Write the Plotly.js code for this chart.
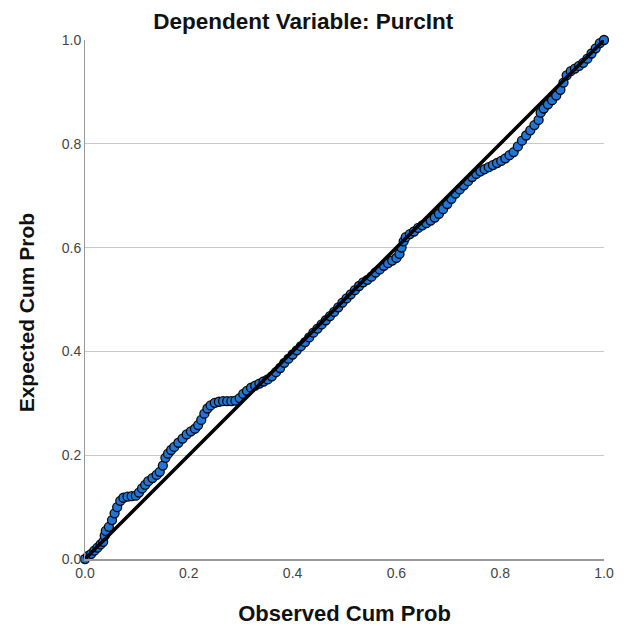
<!DOCTYPE html>
<html>
<head>
<meta charset="utf-8">
<script src="https://cdn.plot.ly/plotly-3.0.1.min.js"></script>
<style>html,body{margin:0;padding:0;background:#fff;}#chart{width:624px;height:628px;}</style>
</head>
<body>
<div id="chart"></div>
<script>
var observedCumProb = [0.000,0.006,0.012,0.018,0.024,0.030,0.035,0.038,0.040,0.046,0.052,0.057,0.062,0.068,0.074,0.082,0.090,0.098,0.104,0.110,0.116,0.122,0.130,0.138,0.144,0.150,0.155,0.160,0.166,0.172,0.180,0.188,0.196,0.204,0.212,0.218,0.224,0.230,0.236,0.242,0.250,0.258,0.266,0.274,0.282,0.290,0.298,0.305,0.312,0.320,0.328,0.336,0.344,0.352,0.360,0.368,0.376,0.384,0.392,0.400,0.408,0.416,0.424,0.432,0.440,0.448,0.456,0.464,0.472,0.480,0.488,0.496,0.504,0.512,0.520,0.528,0.536,0.544,0.552,0.560,0.568,0.576,0.584,0.592,0.600,0.606,0.610,0.614,0.618,0.626,0.634,0.642,0.650,0.658,0.666,0.674,0.682,0.690,0.698,0.706,0.714,0.722,0.730,0.738,0.746,0.754,0.762,0.770,0.778,0.786,0.794,0.802,0.810,0.818,0.826,0.834,0.842,0.850,0.858,0.866,0.874,0.878,0.884,0.892,0.900,0.908,0.916,0.922,0.928,0.936,0.944,0.952,0.960,0.968,0.976,0.984,0.992,1.000];
var expectedCumProb = [0.000,0.006,0.010,0.016,0.022,0.028,0.033,0.045,0.054,0.062,0.075,0.088,0.100,0.112,0.118,0.120,0.121,0.122,0.128,0.136,0.143,0.150,0.156,0.162,0.168,0.180,0.195,0.203,0.210,0.216,0.224,0.232,0.240,0.246,0.251,0.258,0.268,0.280,0.290,0.296,0.301,0.303,0.304,0.304,0.304,0.305,0.310,0.318,0.324,0.330,0.334,0.338,0.342,0.346,0.352,0.360,0.368,0.378,0.386,0.394,0.402,0.410,0.418,0.427,0.436,0.444,0.452,0.460,0.468,0.476,0.485,0.494,0.502,0.510,0.518,0.526,0.533,0.538,0.544,0.552,0.558,0.565,0.570,0.575,0.580,0.588,0.600,0.612,0.620,0.626,0.631,0.638,0.643,0.647,0.652,0.658,0.665,0.674,0.684,0.694,0.704,0.712,0.720,0.728,0.736,0.742,0.747,0.751,0.755,0.759,0.763,0.767,0.772,0.778,0.784,0.795,0.806,0.816,0.826,0.836,0.846,0.860,0.868,0.876,0.884,0.893,0.904,0.918,0.932,0.940,0.945,0.950,0.956,0.964,0.974,0.984,0.994,1.000];
var refLine = [0, 1];
var tickVals = [0, 0.2, 0.4, 0.6, 0.8, 1.0];
var tickText = ["0.0", "0.2", "0.4", "0.6", "0.8", "1.0"];

var traces = [
  {
    x: observedCumProb, y: expectedCumProb, type: 'scatter', mode: 'markers',
    marker: {size: 9, color: '#1f76d8', line: {color: '#0a0a0a', width: 1.3}},
    cliponaxis: false, hoverinfo: 'x+y'
  },
  {
    x: refLine, y: refLine, type: 'scatter', mode: 'lines',
    line: {color: '#000000', width: 3.5}, cliponaxis: false, hoverinfo: 'skip'
  }
];

var layout = {
  width: 624, height: 628,
  paper_bgcolor: '#ffffff', plot_bgcolor: '#ffffff',
  showlegend: false,
  margin: {l: 85, r: 20, t: 40, b: 69},
  font: {family: 'Liberation Sans, Arial, sans-serif', color: '#333333'},
  title: {
    text: 'Dependent Variable: PurcInt',
    font: {size: 22.5, color: '#111111', family: 'Liberation Sans, Arial, sans-serif', weight: 'bold'},
    x: 0.486, xref: 'container', xanchor: 'center',
    y: 0.966, yref: 'container', yanchor: 'middle'
  },
  xaxis: {
    range: [0, 1], tickvals: tickVals, ticktext: tickText,
    showgrid: false, zeroline: false,
    showline: true, linecolor: '#999999', linewidth: 2,
    ticks: '', tickfont: {size: 14, color: '#444444'},
    title: {text: 'Observed Cum Prob', standoff: 26,
      font: {size: 22, color: '#111111', weight: 'bold'}},
    fixedrange: true
  },
  yaxis: {
    range: [0, 1], tickvals: tickVals, ticktext: tickText,
    showgrid: true, gridcolor: '#c8c8c8', gridwidth: 1,
    zeroline: false,
    showline: true, linecolor: '#999999', linewidth: 1,
    ticks: '', tickfont: {size: 14, color: '#444444'},
    fixedrange: true
  },
  annotations: [{
    text: 'Expected Cum Prob', textangle: -90,
    xref: 'paper', yref: 'paper', x: -0.112, y: 0.475,
    xanchor: 'center', yanchor: 'middle', showarrow: false,
    font: {size: 21, color: '#111111', family: 'Liberation Sans, Arial, sans-serif', weight: 'bold'}
  }]
};

Plotly.newPlot('chart', traces, layout, {displayModeBar: false, staticPlot: true});
</script>
</body>
</html>
